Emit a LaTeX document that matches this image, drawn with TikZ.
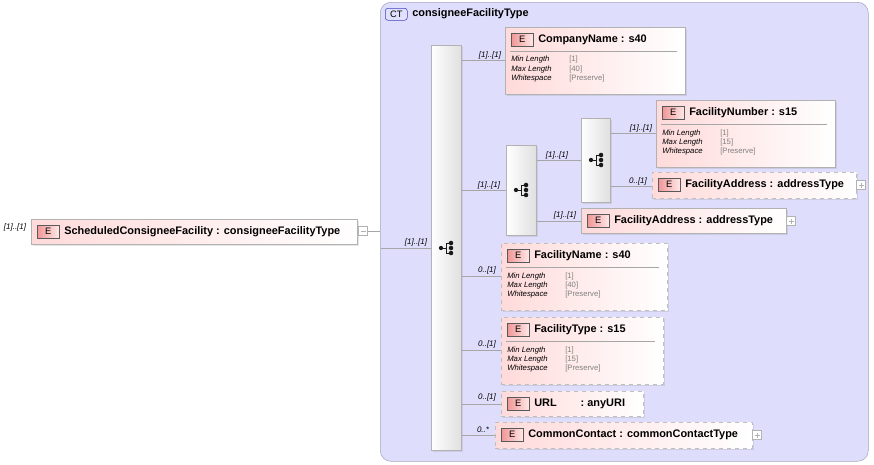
\documentclass[tikz,border=0pt]{standalone}
\usepackage{fontspec}
\setmainfont{Liberation Sans}
\usetikzlibrary{positioning,shadows,calc}
\definecolor{ctfill}{RGB}{222,222,252}
\definecolor{ctline}{RGB}{165,165,190}
\definecolor{elpink}{RGB}{255,218,218}
\definecolor{badgered}{RGB}{240,150,150}

\tikzset{
  elem/.style={draw=gray!60, anchor=north west, left color=elpink, right color=white,
    drop shadow={opacity=0.2, shadow xshift=1.5pt, shadow yshift=-1.5pt}},
  optelem/.style={elem, dashed, draw=gray!50},
  ebadge/.style={draw=gray!70!black, anchor=north west, left color=badgered, right color=elpink!60,
    minimum width=16.5pt, minimum height=9.75pt, inner sep=0pt, font=\fontsize{7}{8}\selectfont},
  etitle/.style={anchor=west, inner sep=0pt, font=\fontsize{8.2}{9}\selectfont\bfseries},
  bar/.style={draw=gray!60, anchor=north west, left color=white, right color=gray!25,
    drop shadow={opacity=0.2, shadow xshift=1pt, shadow yshift=-1pt}},
  mult/.style={inner sep=0pt, font=\fontsize{6}{7}\selectfont\itshape},
  plab/.style={anchor=west, inner sep=0pt, font=\fontsize{5.8}{6}\selectfont\itshape},
  pval/.style={anchor=west, inner sep=0pt, text=gray, font=\fontsize{5.8}{6}\selectfont},
  pm/.style={draw=gray!60, fill=white, minimum size=6.5pt, inner sep=0pt},
  conn/.style={draw=gray!70, line width=0.5pt}
}

% element box: name, x, y, w, h, style, title
\newcommand{\elembox}[7]{%
  \node[#6, minimum width=#4*0.75pt, minimum height=#5*0.75pt] (#1) at (#2,#3) {};
  \node[ebadge] (#1-e) at ($(#2,#3)+(6,6)$) {E};
  \node[etitle] (#1-t) at ($(#2,#3)+(33,12.5)$) {#7};
}
% facets: name, x, y, w, max length
\newcommand{\facets}[5]{%
  \draw[gray!70] ($(#2,#3)+(5,24)$) -- ($(#2,#3)+(#4-8,24)$);
  \node[plab] (#1-l1) at ($(#2,#3)+(6,33)$) {Min Length};
  \node[plab] (#1-l2) at ($(#2,#3)+(6,42)$) {Max Length};
  \node[plab] (#1-l3) at ($(#2,#3)+(6,51)$) {Whitespace};
  \node[pval] (#1-v1) at ($(#2,#3)+(64,33)$) {[1]};
  \node[pval] (#1-v2) at ($(#2,#3)+(64,42)$) {[#5]};
  \node[pval] (#1-v3) at ($(#2,#3)+(64,51)$) {[Preserve]};
}
% sequence symbol
\newcommand{\seqicon}[1]{%
  \fill[gray!20!black] ($(#1)+(-6,0)$) circle (1.6pt);
  \draw[gray!20!black, line width=0.6pt] ($(#1)+(-6,0)$) -- ($(#1)+(-1,0)$)
    ($(#1)+(-1,-5)$) -- ($(#1)+(-1,5)$) ($(#1)+(-1,-5)$) -- ($(#1)+(4,-5)$)
    ($(#1)+(-1,5)$) -- ($(#1)+(4,5)$);
  \foreach \dy in {-5,0,5} \fill[gray!20!black] ($(#1)+(4,\dy)$) circle (1.7pt);
}

\begin{document}
\begin{tikzpicture}[x=0.75pt, y=-0.75pt]
\useasboundingbox (0,0) rectangle (874,464);

% complex type frame
\node[draw=ctline, fill=ctfill, rounded corners=8pt, anchor=north west,
  minimum width=488*0.75pt, minimum height=459*0.75pt] (ct) at (380,2) {};
\node[draw=gray!50!blue, fill=ctfill!70!blue!30, rounded corners=2pt, anchor=north west,
  minimum width=22*0.75pt, minimum height=12*0.75pt, inner sep=0pt,
  font=\fontsize{7}{8}\selectfont] (ct-b) at (385,8) {CT};
\node[etitle] (ct-t) at (412,14) {consigneeFacilityType};

% root element
\elembox{root}{31}{219}{326}{25}{elem}{ScheduledConsigneeFacility : consigneeFacilityType}
\node[mult] (root-m) at (15,227) {[1]..[1]};
\node[pm] (root-pm) at (363,231) {};
\draw[gray!60] (360.5,231) -- (365.5,231);
\draw[conn] (root-pm.east) -- (ct.west |- root-pm);

% compositors
\node[bar, minimum width=30*0.75pt, minimum height=405*0.75pt] (seq) at (431,45) {};
\seqicon{447,248}
\node[bar, minimum width=30*0.75pt, minimum height=90*0.75pt] (seq2) at (506,145) {};
\seqicon{522,190}
\node[bar, minimum width=29*0.75pt, minimum height=84*0.75pt] (seq3) at (581,118) {};
\seqicon{597,160}
\coordinate (ct-in) at (381,248);
\draw[conn] (ct-in) -- (seq.west |- ct-in);
\node[mult] (seq-m) at (416,242) {[1]..[1]};

% children
\elembox{cn}{505}{27}{180}{67}{elem}{CompanyName : s40}
\facets{cn}{505}{27}{180}{40}
\elembox{fnum}{656}{100}{179}{67}{elem}{FacilityNumber : s15}
\facets{fnum}{656}{100}{179}{15}
\elembox{fa1}{652}{172}{204}{26}{optelem}{FacilityAddress : addressType}
\node[pm] (fa1-pm) at (861,185) {};
\elembox{fa2}{581}{208}{205}{25}{elem}{FacilityAddress : addressType}
\node[pm] (fa2-pm) at (791,221) {};
\elembox{fname}{501}{243}{166}{67}{optelem}{FacilityName : s40}
\facets{fname}{501}{243}{166}{40}
\elembox{ftype}{501}{317}{162}{67}{optelem}{FacilityType : s15}
\facets{ftype}{501}{317}{162}{15}
\elembox{url}{501}{391}{142}{25}{optelem}{URL\hspace{18pt}: anyURI}
\elembox{cc}{495}{422}{257}{26}{optelem}{CommonContact : commonContactType}
\node[pm] (cc-pm) at (757,435) {};
\foreach \p in {fa1-pm,fa2-pm,cc-pm} {
  \draw[gray!60] ($(\p)+(-2.5,0)$) -- ($(\p)+(2.5,0)$) ($(\p)+(0,-2.5)$) -- ($(\p)+(0,2.5)$);
}

% connectors
\draw[conn] (seq.east |- 0,60) -- (cn.west |- 0,60);
\node[mult] (cn-m) at (490,55) {[1]..[1]};
\draw[conn] (seq.east |- 0,190) -- (seq2.west |- 0,190);
\node[mult] (seq2-m) at (489,185) {[1]..[1]};
\draw[conn] (seq2.east |- 0,160) -- (seq3.west |- 0,160);
\node[mult] (seq3-m) at (557,155) {[1]..[1]};
\draw[conn] (seq3.east |- 0,133) -- (fnum.west |- 0,133);
\node[mult] (fnum-m) at (641,128) {[1]..[1]};
\draw[conn] (seq3.east |- 0,186) -- (fa1.west |- 0,186);
\node[mult] (fa1-m) at (638,181) {0..[1]};
\draw[conn] (seq2.east |- 0,221) -- (fa2.west |- 0,221);
\node[mult] (fa2-m) at (565,215) {[1]..[1]};
\draw[conn] (seq.east |- 0,276) -- (fname.west |- 0,276);
\node[mult] (fname-m) at (487,270) {0..[1]};
\draw[conn] (seq.east |- 0,350) -- (ftype.west |- 0,350);
\node[mult] (ftype-m) at (487,344) {0..[1]};
\draw[conn] (seq.east |- 0,404) -- (url.west |- 0,404);
\node[mult] (url-m) at (487,397) {0..[1]};
\draw[conn] (seq.east |- 0,435) -- (cc.west |- 0,435);
\node[mult] (cc-m) at (483,430) {0..*};
\end{tikzpicture}
\end{document}
